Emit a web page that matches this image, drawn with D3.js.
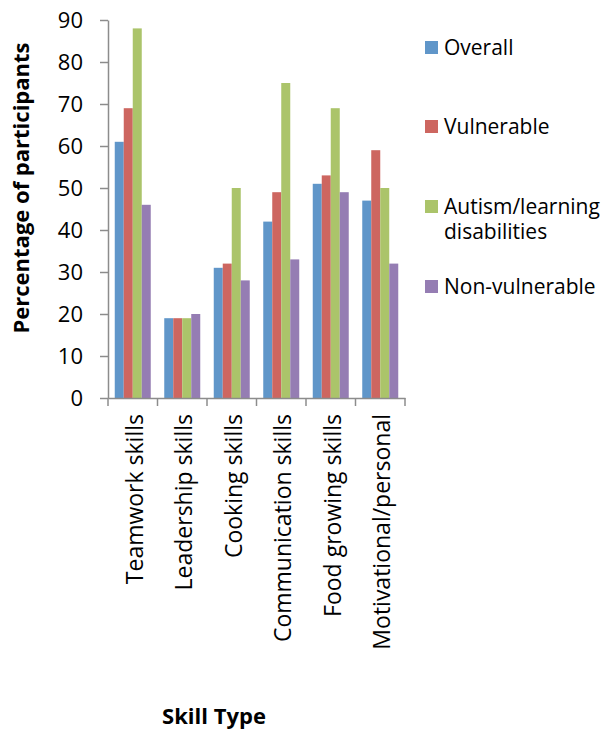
<!DOCTYPE html>
<html><head><meta charset="utf-8">
<script src="https://cdn.jsdelivr.net/npm/d3@7"></script>
<style>body{margin:0;background:#fff}svg{display:block}text{font-family:"Open Sans",sans-serif;fill:#000}</style>
</head><body><svg id="c" width="603" height="731"></svg>
<script>
const categories = ["Teamwork skills","Leadership skills","Cooking skills","Communication skills","Food growing skills","Motivational/personal"];
const seriesNames = ["Overall","Vulnerable","Autism/learning disabilities","Non-vulnerable"];
const overall = [61,19,31,42,51,47];
const vulnerable = [69,19,32,49,53,59];
const autism = [88,19,50,75,69,50];
const nonVulnerable = [46,20,28,33,49,32];
const yTicks = [0,10,20,30,40,50,60,70,80,90];
const colors = ["#6096c9","#cd6660","#abc46a","#957db3"];
const series = [overall, vulnerable, autism, nonVulnerable];

(function(){
const svg = d3.select("#c");
const left = 108, right = 405, topY = 20, bottom = 398;
const x = d3.scaleBand().domain(categories).range([left, right]).paddingInner(0).paddingOuter(0);
const xs = d3.scaleBand().domain(d3.range(4)).range([0, x.bandwidth()]).paddingInner(0).paddingOuter(0.75);
const y = d3.scaleLinear().domain([0,90]).range([bottom, topY]);

const g = svg.append("g");
categories.forEach((c, ci) => {
  series.forEach((s, si) => {
    g.append("rect")
      .attr("x", x(c) + xs(si))
      .attr("y", y(s[ci]))
      .attr("width", xs.bandwidth())
      .attr("height", y(0) - y(s[ci]))
      .attr("fill", colors[si]);
  });
});

const ya = svg.append("g").attr("transform", `translate(${left},0)`)
  .call(d3.axisLeft(y).tickValues(yTicks).tickSize(8).tickPadding(17).tickSizeOuter(0));
ya.select(".domain").attr("stroke", "#8c8c8c").attr("stroke-width", 1.5);
ya.selectAll(".tick line").attr("stroke", "#8c8c8c").attr("stroke-width", 1.5);
ya.selectAll(".tick text").style("font-family", '"Open Sans",sans-serif').style("font-size", "22px").attr("fill", "#000");

const xa = svg.append("g").attr("transform", `translate(0,${bottom})`)
  .call(d3.axisBottom(x).tickSize(0).tickSizeOuter(0));
xa.select(".domain").attr("stroke", "#8c8c8c").attr("stroke-width", 1.5);
xa.selectAll(".tick text")
  .style("font-family", '"Open Sans",sans-serif').style("font-size", "23px").attr("fill", "#000")
  .attr("text-anchor", "end")
  .attr("transform", "rotate(-90)")
  .attr("x", -16).attr("y", 2).attr("dy", "0.35em");
const bounds = categories.map(c => x(c)).concat([right]);
svg.append("g").selectAll("line").data(bounds).join("line")
  .attr("x1", d => d).attr("x2", d => d).attr("y1", bottom).attr("y2", bottom + 8)
  .attr("stroke", "#8c8c8c").attr("stroke-width", 1.5);

svg.append("text").attr("transform", "translate(29,188) rotate(-90)")
  .attr("text-anchor", "middle").style("font-size", "22px").style("font-weight", "bold")
  .text("Percentage of participants");
svg.append("text").attr("x", 214).attr("y", 724)
  .attr("text-anchor", "middle").style("font-size", "22px").style("font-weight", "bold")
  .text("Skill Type");

const legendY = [48, 127, 207, 287];
const lg = svg.append("g");
seriesNames.forEach((n, i) => {
  lg.append("rect").attr("x", 425).attr("y", legendY[i] - 7).attr("width", 13).attr("height", 13).attr("fill", colors[i]);
  const t = lg.append("text").attr("x", 444).attr("y", legendY[i]).attr("dy", "0.35em").style("font-size", "21px");
  if (i === 2) {
    t.append("tspan").attr("x", 444).text("Autism/learning");
    t.append("tspan").attr("x", 444).attr("dy", 25).text("disabilities");
  } else {
    t.text(n);
  }
});
})();
</script></body></html>
